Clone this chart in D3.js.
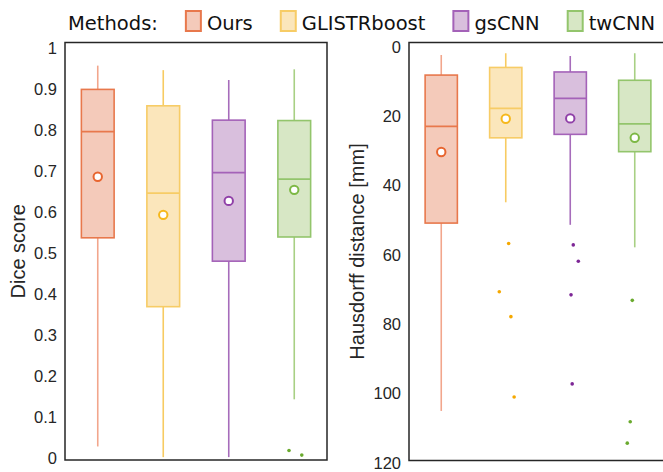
<!DOCTYPE html>
<html>
<head>
<meta charset="utf-8">
<script src="https://cdn.jsdelivr.net/npm/d3@7"></script>
<style>
  html, body { margin: 0; padding: 0; background: #fff; }
  svg { display: block; }
</style>
</head>
<body>
<svg id="chart" width="663" height="472"></svg>
<script>
// ---------------- DATA ----------------
const methods = ["Ours", "GLISTRboost", "gsCNN", "twCNN"];

// Dice score
const diceWhiskerLow  = [0.028, 0.002, 0.002, 0.143];
const diceQ1          = [0.537, 0.369, 0.480, 0.539];
const diceMedian      = [0.796, 0.646, 0.696, 0.680];
const diceQ3          = [0.899, 0.859, 0.824, 0.823];
const diceWhiskerHigh = [0.957, 0.946, 0.922, 0.948];
const diceMean        = [0.686, 0.593, 0.627, 0.654];
const diceOutliers    = [[], [], [], [0.018, 0.007]];
const diceOutlierJitter = [[], [], [], [-0.08, 0.115]];
const diceTicks = [0, 0.1, 0.2, 0.3, 0.4, 0.5, 0.6, 0.7, 0.8, 0.9, 1];

// Hausdorff distance [mm]
const hdWhiskerLow  = [2.3, 1.8, 2.6, 1.8];
const hdQ1          = [8.1, 5.9, 7.2, 9.6];
const hdMedian      = [22.9, 17.7, 14.8, 22.2];
const hdQ3          = [50.8, 26.2, 25.2, 30.2];
const hdWhiskerHigh = [105.0, 44.8, 51.3, 57.8];
const hdMean        = [30.3, 20.7, 20.6, 26.2];
const hdOutliers    = [[], [56.7, 70.6, 77.8, 101.0], [57.1, 61.8, 71.5, 97.2], [73.1, 108.1, 114.3]];
const hdOutlierJitter = [[], [0.045, -0.10, 0.08, 0.13], [0.047, 0.125, 0.012, 0.03], [-0.038, -0.07, -0.116]];
const hdTicks = [0, 20, 40, 60, 80, 100, 120];

// ---------------- STYLE ----------------
const boxStroke   = ["#E8784C", "#F7CC66", "#A462B8", "#93C56C"];
const boxFill     = ["#F4CABA", "#FBE6BB", "#D9BFDD", "#D7E7C5"];
const whiskerCol  = ["#F2A68C", "#F7CB62", "#A66CBB", "#A8D084"];
const meanCol     = ["#E8652F", "#F6B81C", "#9040A8", "#7DB845"];
const outlierCol  = ["#E8652F", "#F5A800", "#7D2696", "#6AAA2E"];
const textCol = "#262626";

const svg = d3.select("#chart");

function panel(cfg) {
  const g = svg.append("g");
  const x = d3.scaleBand().domain(methods).range([cfg.x0, cfg.x1]).padding(0);
  const y = d3.scaleLinear().domain(cfg.domain).range(cfg.range);
  const bw = x.bandwidth() * 0.5;
  const cx = m => x(m) + x.bandwidth() / 2;

  const d = methods.map((m, i) => ({
    m, i,
    lo: cfg.lo[i], q1: cfg.q1[i], med: cfg.med[i], q3: cfg.q3[i], hi: cfg.hi[i], mean: cfg.mean[i],
    out: cfg.out[i].map((v, k) => ({ v, j: cfg.jit[i][k] }))
  }));

  const b = g.selectAll("g.box").data(d).join("g").attr("class", "box");

  // whiskers
  b.append("line")
    .attr("x1", e => cx(e.m)).attr("x2", e => cx(e.m))
    .attr("y1", e => y(e.q3)).attr("y2", e => y(e.hi))
    .attr("stroke", e => whiskerCol[e.i]).attr("stroke-width", 1.6);
  b.append("line")
    .attr("x1", e => cx(e.m)).attr("x2", e => cx(e.m))
    .attr("y1", e => y(e.q1)).attr("y2", e => y(e.lo))
    .attr("stroke", e => whiskerCol[e.i]).attr("stroke-width", 1.6);

  // box
  b.append("rect")
    .attr("x", e => cx(e.m) - bw / 2)
    .attr("width", bw)
    .attr("y", e => Math.min(y(e.q1), y(e.q3)))
    .attr("height", e => Math.abs(y(e.q1) - y(e.q3)))
    .attr("fill", e => boxFill[e.i])
    .attr("stroke", e => boxStroke[e.i]).attr("stroke-width", 1.6);

  // median
  b.append("line")
    .attr("x1", e => cx(e.m) - bw / 2).attr("x2", e => cx(e.m) + bw / 2)
    .attr("y1", e => y(e.med)).attr("y2", e => y(e.med))
    .attr("stroke", e => boxStroke[e.i]).attr("stroke-width", 1.8);

  // mean
  b.append("circle")
    .attr("cx", e => cx(e.m)).attr("cy", e => y(e.mean)).attr("r", 4.2)
    .attr("fill", "#fff").attr("stroke", e => meanCol[e.i]).attr("stroke-width", 2);

  // outliers
  b.selectAll("circle.out").data(e => e.out.map(o => ({ ...o, m: e.m, i: e.i }))).join("circle")
    .attr("class", "out")
    .attr("cx", o => cx(o.m) + o.j * x.bandwidth())
    .attr("cy", o => y(o.v)).attr("r", 1.8)
    .attr("fill", o => outlierCol[o.i]);

  // frame
  g.append("rect")
    .attr("x", cfg.x0).attr("y", Math.min(...cfg.range))
    .attr("width", cfg.x1 - cfg.x0).attr("height", Math.abs(cfg.range[0] - cfg.range[1]))
    .attr("fill", "none").attr("stroke", textCol).attr("stroke-width", 1.5);

  // y axis
  const ax = g.append("g").attr("transform", `translate(${cfg.x0},0)`)
    .call(d3.axisLeft(y).tickValues(cfg.ticks).tickSize(0).tickPadding(8).tickFormat(d3.format("~g")));
  ax.select(".domain").remove();
  ax.selectAll("text").attr("fill", textCol)
    .style("font-family", "'Liberation Sans', Arial, sans-serif").style("font-size", "16.5px");

  // axis title
  const midY = (cfg.range[0] + cfg.range[1]) / 2;
  g.append("text")
    .attr("transform", `translate(${cfg.titleX},${midY}) rotate(-90)`)
    .attr("text-anchor", "middle")
    .attr("fill", textCol)
    .style("font-family", "'Liberation Sans', Arial, sans-serif").style("font-size", "20px")
    .text(cfg.title);
}

panel({
  x0: 65, x1: 327, domain: [-0.005, 1.0134], range: [460, 42.5],
  lo: diceWhiskerLow, q1: diceQ1, med: diceMedian, q3: diceQ3, hi: diceWhiskerHigh, mean: diceMean,
  out: diceOutliers, jit: diceOutlierJitter, ticks: diceTicks,
  title: "Dice score", titleX: 25
});

panel({
  x0: 409, x1: 667, domain: [-1.3, 119.3], range: [42.5, 460.5],
  lo: hdWhiskerLow, q1: hdQ1, med: hdMedian, q3: hdQ3, hi: hdWhiskerHigh, mean: hdMean,
  out: hdOutliers, jit: hdOutlierJitter, ticks: hdTicks,
  title: "Hausdorff distance [mm]", titleX: 364
});

// ---------------- LEGEND ----------------
const leg = svg.append("g").attr("class", "legend");
const legFont = "'DejaVu Sans', Verdana, sans-serif";
const legBase = 30;
const t0 = leg.append("text").attr("x", 68).attr("y", legBase)
  .attr("fill", "#111").style("font-family", legFont).style("font-size", "19.5px").text("Methods:");
let lx = 68 + t0.node().getComputedTextLength() + 28;
methods.forEach((m, i) => {
  leg.append("rect").attr("x", lx).attr("y", 11).attr("width", 15).attr("height", 20)
    .attr("fill", boxFill[i]).attr("stroke", boxStroke[i]).attr("stroke-width", 2);
  const t = leg.append("text").attr("x", lx + 21).attr("y", legBase)
    .attr("fill", "#111").style("font-family", legFont).style("font-size", "19.5px").text(m);
  lx += 21 + t.node().getComputedTextLength() + 28;
});
</script>
</body>
</html>
